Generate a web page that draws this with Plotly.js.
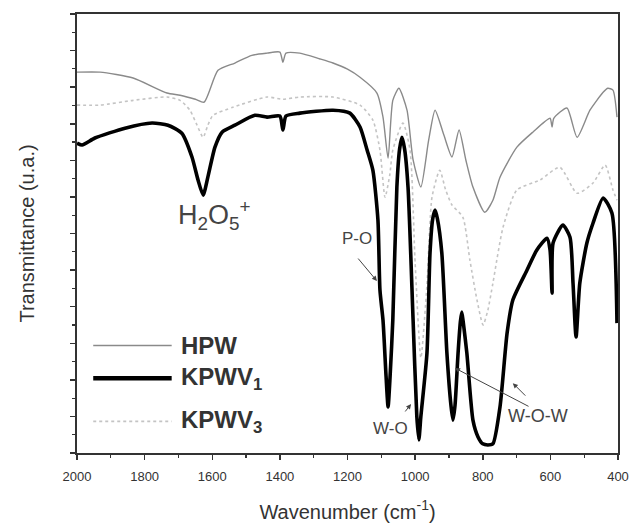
<!DOCTYPE html>
<html>
<head>
<meta charset="utf-8">
<script src="https://cdn.plot.ly/plotly-3.0.1.min.js"></script>
<style>html,body{margin:0;padding:0;background:#fff;}#chart{width:633px;height:524px;}</style>
</head>
<body>
<div id="chart"></div>
<script>
// HPW spectrum (wavenumber, transmittance a.u.)
const hpwWn = [2000,1932,1834,1734,1695,1650,1624,1583,1533,1483,1438,1400,1391,1382,1341,1281,1243,1200,1163,1113,1095,1080,1066,1048,1024,1006,983,960,941,915,891,870,850,829,794,770,749,699,652,601,595,590,551,521,483,444,430,415,403];
const hpwT  = [10.41,10.41,10.25,9.84,9.78,9.67,9.59,10.46,10.66,10.87,10.93,10.96,10.68,10.93,10.93,10.77,10.66,10.49,10.27,9.84,9.18,8.06,9.64,9.97,9.37,8.01,7.27,8.55,9.37,8.69,8.09,8.83,8.01,7.27,6.58,6.91,7.54,8.36,8.77,9.15,8.91,9.15,9.43,8.63,9.37,9.86,9.97,9.92,9.18];

// KPWV1 spectrum
const kpwv1Wn = [2000,1985,1947,1858,1778,1731,1690,1660,1642,1627,1613,1592,1571,1533,1474,1438,1400,1391,1382,1341,1243,1193,1163,1142,1125,1110,1104,1095,1086,1080,1074,1066,1054,1046,1039,1031,1021,1006,995,989,983,965,956,948,941,934,921,906,894,888,882,873,866,862,858,847,829,814,800,785,770,749,728,711,669,640,610,601,595,592,563,542,533,524,513,492,474,444,418,403];
const kpwv1T  = [8.47,8.42,8.61,8.88,9.02,8.96,8.74,8.09,7.46,7.05,7.54,8.36,8.77,8.96,9.23,9.18,9.21,8.83,9.21,9.29,9.37,9.29,8.91,8.28,7.73,6.37,4.45,3.63,2.10,1.26,2.10,3.63,7.27,8.30,8.63,8.30,7.27,3.63,1.00,0.36,1.00,2.73,5.46,6.40,6.64,6.40,5.46,2.73,1.30,0.90,1.30,2.73,3.60,3.85,3.60,2.73,0.90,0.44,0.25,0.22,0.25,1.26,3.28,4.18,5.00,5.55,5.87,5.55,4.37,5.74,6.23,5.90,4.64,3.17,4.64,5.74,6.28,6.97,6.56,3.55];

// KPWV3 spectrum
const kpwv3Wn = [2000,1932,1834,1734,1695,1666,1645,1627,1613,1598,1539,1438,1391,1341,1243,1163,1125,1104,1089,1075,1066,1036,1015,1000,983,965,950,927,910,891,859,838,817,799,785,770,740,699,631,572,521,474,438,415,403];
const kpwv3T  = [9.51,9.51,9.64,9.73,9.64,9.37,8.96,8.63,8.96,9.23,9.45,9.73,9.67,9.73,9.73,9.51,9.10,8.28,6.99,7.60,8.28,9.02,8.28,5.20,2.60,4.60,7.00,7.73,7.20,6.78,6.45,5.27,4.18,3.50,3.90,4.64,6.17,7.19,7.46,7.81,7.10,7.38,7.87,7.19,6.91];

const seriesNames = ['HPW','KPWV<sub>1</sub>','KPWV<sub>3</sub>'];
const xTickVals = [2000,1800,1600,1400,1200,1000,800,600,400];

const traces = [
  {x:hpwWn, y:hpwT, type:'scatter', mode:'lines', name:seriesNames[0],
   line:{color:'#8a8a8a', width:1.4, shape:'spline', smoothing:0.6}},
  {x:kpwv3Wn, y:kpwv3T, type:'scatter', mode:'lines', name:seriesNames[2],
   line:{color:'#c4c4c4', width:1.6, dash:'dot', shape:'spline', smoothing:0.6}},
  {x:kpwv1Wn, y:kpwv1T, type:'scatter', mode:'lines', name:seriesNames[1],
   line:{color:'#000000', width:3.6, shape:'spline', smoothing:0.6}}
];

const font = 'Liberation Sans, Arial, Helvetica, sans-serif';
const txt = '#333333';

const legendRows = [
  {name:seriesNames[0], y:0.245, color:'#8a8a8a', width:1.6, dash:'solid'},
  {name:seriesNames[1], y:0.17, color:'#000000', width:4.5, dash:'solid'},
  {name:seriesNames[2], y:0.072, color:'#c4c4c4', width:1.6, dash:'dot'}
];

const shapes = legendRows.map(r => ({
  type:'line', xref:'paper', yref:'paper', x0:0.03, x1:0.175, y0:r.y, y1:r.y,
  line:{color:r.color, width:r.width, dash:r.dash}
}));

const annotations = legendRows.map(r => ({
  xref:'paper', yref:'paper', x:0.188, y:r.y, xanchor:'left', yanchor:'middle',
  text:'<b>'+r.name+'</b>', showarrow:false, font:{family:font, size:24, color:txt}
}));

annotations.push(
  {x:1592, y:6.5, text:'H<sub>2</sub>O<sub>5</sub><sup>+</sup>', showarrow:false,
   font:{family:font, size:27, color:'#444'}},
  {x:1172, y:5.85, text:'P-O', showarrow:false, font:{family:font, size:17, color:'#444'}},
  {x:1074, y:0.68, text:'W-O', showarrow:false, font:{family:font, size:17, color:'#444'}},
  {x:637, y:1.0, text:'W-O-W', showarrow:false, font:{family:font, size:18, color:'#444'}},
  {x:1113, y:4.70, ax:-20, ay:-24, text:'', showarrow:true, arrowhead:2, arrowsize:1, arrowwidth:1, arrowcolor:'#444'},
  {x:1012, y:1.34, ax:-7, ay:9, text:'', showarrow:true, arrowhead:2, arrowsize:1, arrowwidth:1, arrowcolor:'#444'},
  {x:882, y:2.32, ax:75, ay:39, text:'', showarrow:true, arrowhead:2, arrowsize:1, arrowwidth:1, arrowcolor:'#444'},
  {x:711, y:1.91, ax:14, ay:14, text:'', showarrow:true, arrowhead:2, arrowsize:1, arrowwidth:1, arrowcolor:'#444'}
);

const layout = {
  width:633, height:524,
  margin:{l:77, r:15, t:14, b:71},
  paper_bgcolor:'#fff', plot_bgcolor:'#fff',
  showlegend:false,
  xaxis:{
    range:[2000,400], tickvals:xTickVals, ticks:'outside', ticklen:5, tickwidth:1.5, tickcolor:'#333',
    minor:{dtick:100, ticks:'outside', ticklen:3, tickwidth:1.2, tickcolor:'#333'},
    showline:true, linecolor:'#333', linewidth:2, mirror:true, showgrid:false, zeroline:false,
    ticklabelstandoff:5,
    tickfont:{family:font, size:13, color:txt},
    title:{text:'Wavenumber (cm<sup>-1</sup>)', font:{family:font, size:20, color:txt}, standoff:22}
  },
  yaxis:{
    range:[0,12], dtick:1, ticks:'outside', ticklen:5, tickwidth:1.5, tickcolor:'#333',
    minor:{dtick:0.5, ticks:'outside', ticklen:3, tickwidth:1.2, tickcolor:'#333'},
    showticklabels:false,
    showline:true, linecolor:'#333', linewidth:2, mirror:true, showgrid:false, zeroline:false,
    title:{text:'Transmittance (u.a.)', font:{family:font, size:20, color:txt}, standoff:30}
  },
  shapes:shapes,
  annotations:annotations
};

Plotly.newPlot('chart', traces, layout, {displayModeBar:false, staticPlot:true});
</script>
</body>
</html>
